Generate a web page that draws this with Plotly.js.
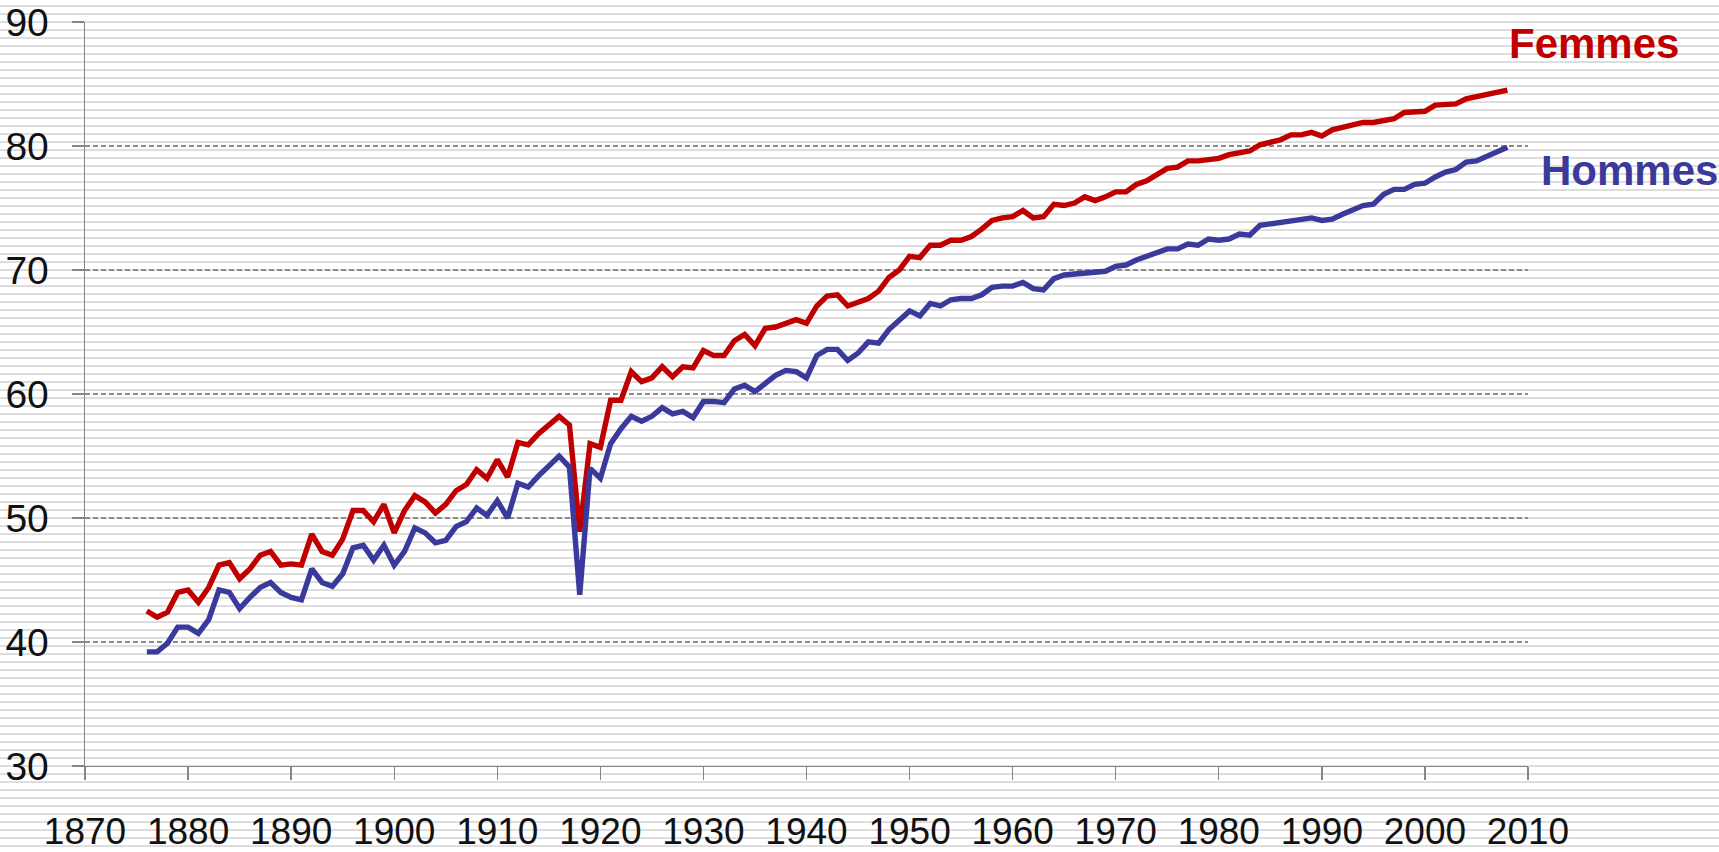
<!DOCTYPE html>
<html>
<head>
<meta charset="utf-8">
<script src="https://cdn.plot.ly/plotly-3.0.1.min.js"></script>
<style>
  html, body { margin: 0; padding: 0; }
  body {
    width: 1719px; height: 852px; overflow: hidden;
    background: repeating-linear-gradient(to bottom,
      #ffffff 0px, #ffffff 4.8px, #e9e9e9 5.2px, #dcdcdc 5.6px, #dcdcdc 6.5px, #e9e9e9 6.9px, #ffffff 7.3px, #ffffff 8px);
  }
  #chart { width: 1719px; height: 852px; }
</style>
</head>
<body>
<div id="chart"></div>
<script>
// Years 1876 to 2008
const startYear = 1876;
const endYear = 2008;
const years = [];
for (let y = startYear; y <= endYear; y++) years.push(y);

// Life expectancy at birth, women
const femmes = [
  42.5, 42.0, 42.4, 44.0, 44.2, 43.2, 44.4, 46.2, 46.4, 45.1,
  45.9, 47.0, 47.3, 46.2, 46.3, 46.2, 48.7, 47.3, 47.0, 48.3,
  50.6, 50.6, 49.7, 51.1, 48.8, 50.6, 51.8, 51.3, 50.4, 51.1,
  52.2, 52.7, 53.9, 53.2, 54.7, 53.3, 56.1, 55.9, 56.8, 57.5,
  58.2, 57.5, 48.9, 56.0, 55.7, 59.5, 59.5, 61.8, 61.0, 61.3,
  62.2, 61.4, 62.2, 62.1, 63.5, 63.1, 63.1, 64.3, 64.8, 63.9,
  65.3, 65.4, 65.7, 66.0, 65.7, 67.1, 67.9, 68.0, 67.1, 67.4,
  67.7, 68.3, 69.4, 70.0, 71.1, 71.0, 72.0, 72.0, 72.4, 72.4,
  72.7, 73.3, 74.0, 74.2, 74.3, 74.8, 74.2, 74.3, 75.3, 75.2,
  75.4, 75.9, 75.6, 75.9, 76.3, 76.3, 76.9, 77.2, 77.7, 78.2,
  78.3, 78.8, 78.8, 78.9, 79.0, 79.3, 79.5, 79.6, 80.1, 80.3,
  80.5, 80.9, 80.9, 81.1, 80.8, 81.3, 81.5, 81.6, 81.9, 81.9,
  82.1, 82.2, 82.7, 82.7, 82.8, 83.3, 83.3, 83.4, 83.8, 84.0,
  84.2, 84.3, 84.5
];

// Life expectancy at birth, men
const hommes = [
  39.2, 39.2, 39.9, 41.2, 41.2, 40.7, 41.8, 44.2, 44.0, 42.7,
  43.6, 44.4, 44.8, 44.0, 43.6, 43.4, 45.9, 44.8, 44.5, 45.5,
  47.6, 47.8, 46.6, 47.8, 46.2, 47.3, 49.2, 48.8, 48.0, 48.2,
  49.3, 49.7, 50.8, 50.2, 51.4, 50.0, 52.8, 52.5, 53.4, 54.2,
  55.0, 54.1, 43.8, 54.0, 53.2, 56.0, 57.2, 58.2, 57.8, 58.2,
  58.9, 58.4, 58.6, 58.1, 59.4, 59.4, 59.3, 60.4, 60.7, 60.2,
  60.9, 61.5, 61.9, 61.8, 61.3, 63.1, 63.6, 63.6, 62.7, 63.3,
  64.2, 64.1, 65.2, 65.9, 66.7, 66.3, 67.3, 67.1, 67.6, 67.7,
  67.7, 68.0, 68.6, 68.7, 68.7, 69.0, 68.5, 68.4, 69.3, 69.6,
  69.7, 69.8, 69.9, 69.9, 70.3, 70.4, 70.8, 71.1, 71.4, 71.7,
  71.7, 72.1, 72.0, 72.5, 72.4, 72.5, 72.9, 72.8, 73.6, 73.7,
  73.9, 74.0, 74.0, 74.2, 74.0, 74.1, 74.5, 74.9, 75.2, 75.3,
  76.1, 76.5, 76.5, 76.9, 77.0, 77.5, 77.9, 78.1, 78.7, 78.8,
  79.2, 79.5, 79.9
];

const xTicks = [1870, 1880, 1890, 1900, 1910, 1920, 1930, 1940, 1950, 1960, 1970, 1980, 1990, 2000, 2010];
const yTicks = [30, 40, 50, 60, 70, 80, 90];
const seriesNames = ['Femmes', 'Hommes'];

const RED = '#C00000';
const BLUE = '#3A3A9C';
const AXIS = '#868686';
const FONT = '"Liberation Sans", Arial, sans-serif';

const traces = [
  { x: years, y: femmes, name: seriesNames[0], type: 'scatter', mode: 'lines',
    line: { color: RED, width: 5.4 }, hoverinfo: 'x+y' },
  { x: years, y: hommes, name: seriesNames[1], type: 'scatter', mode: 'lines',
    line: { color: BLUE, width: 5.4 }, hoverinfo: 'x+y' }
];

const layout = {
  width: 1719, height: 852,
  margin: { l: 85, r: 191, t: 22, b: 86, pad: 0 },
  paper_bgcolor: 'rgba(0,0,0,0)',
  plot_bgcolor: 'rgba(0,0,0,0)',
  showlegend: false,
  font: { family: FONT, color: '#111111' },
  xaxis: {
    range: [1870, 2010],
    tickmode: 'array', tickvals: xTicks, ticktext: xTicks.map(String),
    showgrid: false, zeroline: false,
    showline: true, linecolor: AXIS, linewidth: 1.4,
    ticks: 'outside', ticklen: 13, tickwidth: 1.4, tickcolor: AXIS,
    tickfont: { family: FONT, size: 37, color: '#111111' },
    ticklabelstandoff: 19,
    automargin: false, fixedrange: true
  },
  yaxis: {
    range: [30, 90],
    tickmode: 'array', tickvals: yTicks, ticktext: yTicks.map(String),
    showgrid: true, gridcolor: '#8a8a8a', gridwidth: 1.3, griddash: '5px,3px',
    zeroline: false,
    showline: true, linecolor: AXIS, linewidth: 1.4,
    ticks: 'outside', ticklen: 12, tickwidth: 1.4, tickcolor: AXIS,
    tickfont: { family: FONT, size: 39, color: '#111111' },
    ticklabelstandoff: 15,
    automargin: false, fixedrange: true
  },
  annotations: [
    { xref: 'paper', yref: 'y', x: 0.9864, y: 88.3, xanchor: 'left', yanchor: 'middle',
      text: '<b>' + seriesNames[0] + '</b>', showarrow: false, borderpad: 0,
      font: { family: FONT, size: 42, color: RED } },
    { xref: 'paper', yref: 'y', x: 1.0085, y: 78.0, xanchor: 'left', yanchor: 'middle',
      text: '<b>' + seriesNames[1] + '</b>', showarrow: false, borderpad: 0,
      font: { family: FONT, size: 42, color: BLUE } }
  ]
};

Plotly.newPlot('chart', traces, layout, { displayModeBar: false, staticPlot: true });
</script>
</body>
</html>
